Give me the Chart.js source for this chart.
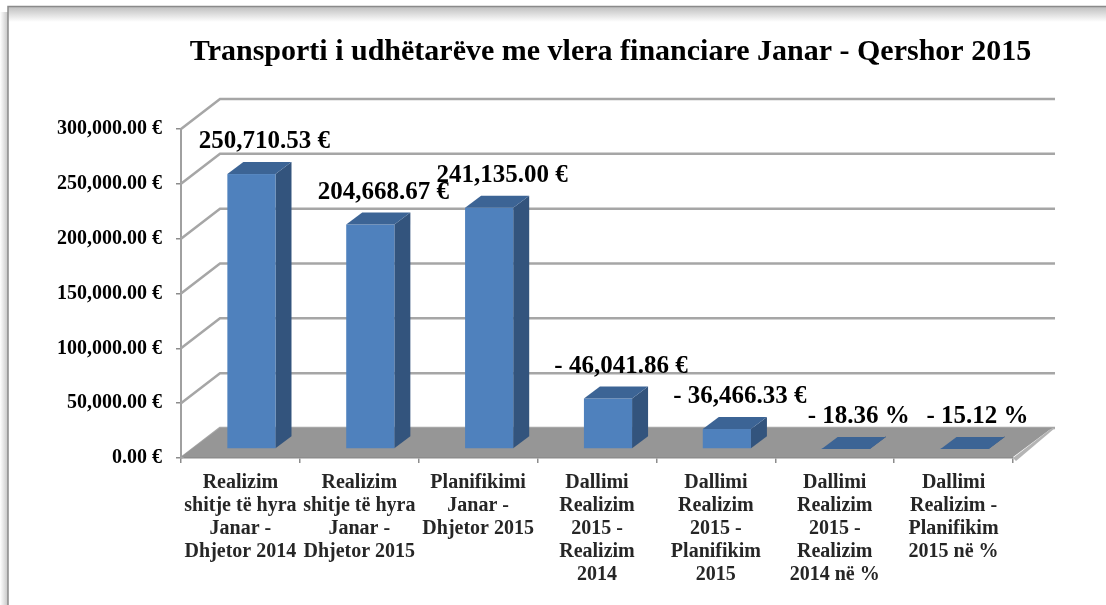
<!DOCTYPE html>
<html>
<head>
<meta charset="utf-8">
<script src="https://cdn.jsdelivr.net/npm/chart.js@4.4.1/dist/chart.umd.min.js"></script>
<style>
  html, body { margin: 0; padding: 0; background: #fff; }
  #wrap { width: 1106px; height: 605px; }
</style>
</head>
<body>
<div id="wrap"><canvas id="myChart" width="1106" height="605"></canvas></div>
<script>
'use strict';

// ***** DATA *****
let chartTitle = 'Transporti i udhëtarëve me vlera financiare Janar - Qershor 2015';

let categories = [
  ['Realizim', 'shitje të hyra', 'Janar -', 'Dhjetor 2014'],
  ['Realizim', 'shitje të hyra', 'Janar -', 'Dhjetor 2015'],
  ['Planifikimi', 'Janar -', 'Dhjetor 2015'],
  ['Dallimi', 'Realizim', '2015 -', 'Realizim', '2014'],
  ['Dallimi', 'Realizim', '2015 -', 'Planifikim', '2015'],
  ['Dallimi', 'Realizim', '2015 -', 'Realizim', '2014 në %'],
  ['Dallimi', 'Realizim -', 'Planifikim', '2015 në %']
];

// bar heights as drawn in the picture
let barValues = [250710.53, 204668.67, 220000, 46041.86, 18200, 18.36, 15.12];

// text written above each bar
let valueLabels = ['250,710.53 €', '204,668.67 €', '241,135.00 €', '- 46,041.86 €',
  '- 36,466.33 €', '- 18.36 %', '- 15.12 %'];

let yTicks = [0, 50000, 100000, 150000, 200000, 250000, 300000];

// ***** 3D LOOK *****
let wallDx = 39, wallDy = -30;      // depth of the back wall
let barShiftX = 11, barShiftY = -9;  // bars sit a bit inside the floor
let barDepthX = 16, barDepthY = -12;
let serif = '"Liberation Serif", "Times New Roman", serif';

let ctx = document.getElementById('myChart');

function poly(c, pts){
  c.beginPath();
  c.moveTo(pts[0][0], pts[0][1]);
  for(let i = 1; i < pts.length; i++){
    c.lineTo(pts[i][0], pts[i][1]);
  }
  c.closePath();
  c.fill();
}

// **** PLUGIN: frame, back wall, floor, 3d bars ****
let threeD = {
  id: 'threeD',
  beforeDraw(chart){
    let c = chart.ctx;
    let w = chart.width, h = chart.height;
    c.save();
    c.fillStyle = '#fff';
    c.fillRect(0, 0, w, h);
    // soft shadow along the frame
    let g = c.createLinearGradient(0, 7, 0, 22);
    g.addColorStop(0, 'rgba(140,140,140,0.55)');
    g.addColorStop(1, 'rgba(140,140,140,0)');
    c.fillStyle = g;
    c.fillRect(8, 7, w - 8, 15);
    let g2 = c.createLinearGradient(0, 0, 8, 0);
    g2.addColorStop(0, 'rgba(140,140,140,0)');
    g2.addColorStop(1, 'rgba(140,140,140,0.5)');
    c.fillStyle = g2;
    c.fillRect(0, 12, 8, h - 12);
    c.strokeStyle = '#8a8a8a';
    c.lineWidth = 1.5;
    c.beginPath();
    c.moveTo(8, h);
    c.lineTo(8, 6.5);
    c.lineTo(w, 6.5);
    c.stroke();
    c.restore();
  },
  beforeDatasetsDraw(chart){
    let c = chart.ctx;
    let y = chart.scales.y;
    let area = chart.chartArea;
    c.save();
    c.strokeStyle = '#a6a6a6';
    c.lineWidth = 2.5;
    yTicks.forEach(v => {
      let py = y.getPixelForValue(v);
      c.beginPath();
      c.moveTo(area.left, py);
      c.lineTo(area.left + wallDx, py + wallDy);
      c.lineTo(area.right + wallDx + 3, py + wallDy);
      c.stroke();
    });
    // floor
    let fy = y.getPixelForValue(0);
    c.fillStyle = '#b4b4b4';
    poly(c, [[area.right, fy], [area.right + wallDx, fy + wallDy],
      [area.right + wallDx + 3, fy + wallDy], [area.right + 3, fy + 3]]);
    c.fillStyle = '#969696';
    poly(c, [[area.left, fy - 1], [area.left + wallDx, fy + wallDy],
      [area.right + wallDx, fy + wallDy], [area.right, fy - 1]]);
    c.restore();
  },
  afterDatasetsDraw(chart){
    let c = chart.ctx;
    let meta = chart.getDatasetMeta(0);
    let tops = [];
    c.save();
    meta.data.forEach((bar) => {
      let p = bar.getProps(['x', 'y', 'base', 'width'], true);
      let x0 = p.x - p.width / 2 + barShiftX;
      let x1 = p.x + p.width / 2 + barShiftX;
      let top = p.y + barShiftY;
      let bottom = p.base + barShiftY;
      c.fillStyle = '#33547d';
      poly(c, [[x1, top], [x1 + barDepthX, top + barDepthY],
        [x1 + barDepthX, bottom + barDepthY], [x1, bottom]]);
      c.fillStyle = '#4f81bd';
      c.fillRect(x0, top, x1 - x0, bottom - top);
      c.fillStyle = '#3c6495';
      poly(c, [[x0, top], [x1, top], [x1 + barDepthX, top + barDepthY], [x0 + barDepthX, top + barDepthY]]);
      tops.push([(x0 + x1) / 2, top]);
    });
    c.font = 'bold 25px ' + serif;
    c.fillStyle = '#000';
    c.textAlign = 'center';
    c.textBaseline = 'alphabetic';
    tops.forEach((t, i) => {
      c.fillText(valueLabels[i], t[0] + 13, t[1] - 26);
    });
    c.restore();
  },
  afterDraw(chart){
    let c = chart.ctx;
    let area = chart.chartArea;
    c.save();
    c.font = 'bold 30px ' + serif;
    c.fillStyle = '#000';
    c.textAlign = 'center';
    c.textBaseline = 'alphabetic';
    c.fillText(chartTitle, (area.left + area.right + wallDx) / 2 - 6, 60);
    c.restore();
  }
};

let chartObj = {
  type: 'bar',
  data: {
    labels: categories,
    datasets: [{
      label: 'Vlera',
      data: barValues,
      backgroundColor: 'rgba(0,0,0,0)',
      borderWidth: 0,
      barPercentage: 0.405,
      categoryPercentage: 1
    }]
  },
  options: {
    responsive: false,
    animation: false,
    layout: {
      padding: { top: 129, right: 93, left: 0, bottom: 0 }
    },
    plugins: {
      legend: { display: false },
      tooltip: { enabled: false },
      title: { display: false }
    },
    scales: {
      x: {
        type: 'category',
        grid: { drawOnChartArea: false, tickLength: 5, color: '#8c8c8c', lineWidth: 1.5, offset: true },
        border: { color: '#8c8c8c', width: 1.5 },
        ticks: {
          font: { family: serif, size: 20, weight: 'bold', lineHeight: 1.15 },
          color: '#262626',
          padding: 8,
          maxRotation: 0,
          autoSkip: false
        },
        afterFit(scale){ scale.height = 147; }
      },
      y: {
        min: 0,
        max: 300000,
        grid: { drawOnChartArea: false, tickLength: 5, color: '#8c8c8c', lineWidth: 1.5 },
        border: { color: '#a0a0a0', width: 2 },
        ticks: {
          stepSize: 50000,
          font: { family: serif, size: 20, weight: 'bold' },
          color: '#000',
          padding: 14,
          callback: v => v.toLocaleString('en-US', { minimumFractionDigits: 2, maximumFractionDigits: 2 }) + ' €'
        },
        afterFit(scale){ scale.width = 181; }
      }
    }
  },
  plugins: [threeD]
};

new Chart(ctx, chartObj);
</script>
</body>
</html>
